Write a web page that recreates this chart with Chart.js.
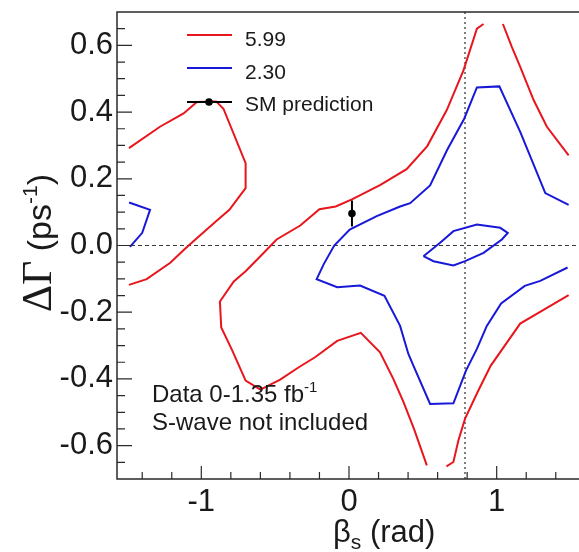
<!DOCTYPE html>
<html>
<head>
<meta charset="utf-8">
<script src="https://cdn.jsdelivr.net/npm/chart.js@4"></script>
<style>
html,body{margin:0;padding:0;background:#fff;overflow:hidden}
canvas{display:block}
</style>
</head>
<body>
<canvas id="c" width="585" height="552"></canvas>
<script>
// ── Axes ─────────────────────────────────────
const X_MIN = -Math.PI / 2, X_MAX = Math.PI / 2;
const Y_MIN = -0.7, Y_MAX = 0.7;
const X_TICKS = [-1, 0, 1];
const X_MINOR = [-1.4, -1.2, -0.8, -0.6, -0.4, -0.2, 0.2, 0.4, 0.6, 0.8, 1.2, 1.4];
const Y_TICKS = [-0.6, -0.4, -0.2, 0, 0.2, 0.4, 0.6];
const Y_MINOR = [-0.65, -0.55, -0.5, -0.45, -0.35, -0.3, -0.25, -0.15, -0.1, -0.05,
                 0.05, 0.1, 0.15, 0.25, 0.3, 0.35, 0.45, 0.5, 0.55, 0.65];

// ── Contours (beta_s, dGamma) ────────────────
// 5.99 level, four open pieces
const red599Left = [
  [-1.49, 0.292], [-1.28, 0.356], [-1.12, 0.396], [-1.03, 0.430], [-0.90, 0.432],
  [-0.85, 0.410], [-0.70, 0.247], [-0.70, 0.172], [-0.81, 0.107], [-0.90, 0.073],
  [-1.04, 0.018], [-1.11, -0.010], [-1.21, -0.052], [-1.37, -0.101], [-1.49, -0.118]
];
const red599Main = [
  [0.527, -0.659], [0.44, -0.550], [0.37, -0.470], [0.30, -0.400], [0.21, -0.320],
  [0.08, -0.262], [-0.08, -0.286], [-0.23, -0.335], [-0.34, -0.365], [-0.466, -0.402],
  [-0.60, -0.432], [-0.70, -0.405], [-0.79, -0.315], [-0.865, -0.246], [-0.874, -0.168],
  [-0.78, -0.108], [-0.70, -0.077], [-0.60, -0.032], [-0.49, 0.018], [-0.33, 0.060],
  [-0.20, 0.109], [-0.09, 0.117], [0.02, 0.138], [0.21, 0.181], [0.39, 0.229],
  [0.53, 0.298], [0.662, 0.406], [0.775, 0.525], [0.866, 0.650], [0.911, 0.664]
];
const red599LowRight = [
  [0.660, -0.662], [0.707, -0.649], [0.741, -0.584], [0.786, -0.519], [0.870, -0.440],
  [0.960, -0.360], [1.159, -0.234], [1.320, -0.192], [1.487, -0.149]
];
const red599UpRight = [
  [1.042, 0.664], [1.103, 0.595], [1.16, 0.535], [1.25, 0.436], [1.34, 0.356], [1.487, 0.270]
];

// 2.30 level, three pieces
const blue230Left = [
  [-1.489, 0.129], [-1.347, 0.107], [-1.40, 0.038], [-1.483, -0.004]
];
const blue230Main = [
  [1.480, -0.066], [1.295, -0.106], [1.190, -0.121], [1.030, -0.174], [0.933, -0.241],
  [0.866, -0.310], [0.792, -0.375], [0.707, -0.473], [0.549, -0.475], [0.436, -0.360],
  [0.402, -0.325], [0.346, -0.241], [0.240, -0.151], [0.075, -0.120], [-0.080, -0.125],
  [-0.219, -0.101], [-0.170, -0.055], [-0.100, 0.000], [0.005, 0.048], [0.188, 0.088],
  [0.346, 0.117], [0.414, 0.127], [0.549, 0.180], [0.665, 0.287], [0.780, 0.380],
  [0.866, 0.474], [1.018, 0.477], [1.160, 0.340], [1.329, 0.157], [1.487, 0.122]
];
const blue230Island = [
  [0.504, -0.032], [0.572, -0.047], [0.707, -0.060], [0.786, -0.047], [0.911, -0.022],
  [1.035, 0.018], [1.075, 0.038], [1.024, 0.053], [0.866, 0.063], [0.707, 0.043],
  [0.617, 0.008], [0.504, -0.032]
];

// Standard Model expectation
const SM_BETA = 0.02, SM_DGAMMA = 0.096, SM_ERR = 0.039;

// Reference lines
const REF_DGAMMA = 0;
const REF_BETA = Math.PI / 4;

// ── Styles ───────────────────────────────────
const RED = '#e8161c', BLUE = '#1818d8', INK = '#1a1a1a';
const sans = "'Liberation Sans', Arial, Helvetica, sans-serif";
const serif = "'Liberation Serif', 'Times New Roman', serif";
const f = (size, fam) => `${size}px ${fam || sans}`;

const pts = arr => arr.map(([x, y]) => ({x, y}));
const line = (arr, color, extra) => Object.assign({
  data: pts(arr), showLine: true, borderColor: color, borderWidth: 2,
  pointRadius: 0, fill: false, tension: 0
}, extra || {});

// ── Helpers ──────────────────────────────────
function richText(ctx, parts, x, y, align) {
  let w = 0;
  parts.forEach(p => { ctx.font = p[1]; w += ctx.measureText(p[0]).width; });
  let cx = align === 'center' ? x - w / 2 : x;
  parts.forEach(p => {
    ctx.font = p[1];
    ctx.fillText(p[0], cx, y + (p[2] || 0));
    cx += ctx.measureText(p[0]).width;
  });
}

// ── Overlay plugin: frame, ticks, legend, labels ──
const overlay = {
  id: 'overlay',
  afterDatasetsDraw(chart) {
    const {ctx, chartArea: a, scales: {x, y}} = chart;
    ctx.save();

    // SM error bar
    const sx = x.getPixelForValue(SM_BETA);
    ctx.strokeStyle = '#000'; ctx.lineWidth = 2;
    ctx.beginPath();
    ctx.moveTo(sx, y.getPixelForValue(SM_DGAMMA + SM_ERR));
    ctx.lineTo(sx, y.getPixelForValue(SM_DGAMMA - SM_ERR));
    ctx.stroke();

    // frame
    ctx.strokeStyle = '#2a2a2a'; ctx.lineWidth = 1.5;
    ctx.beginPath();
    ctx.moveTo(a.right + 2, a.top); ctx.lineTo(a.left, a.top);
    ctx.lineTo(a.left, a.bottom); ctx.lineTo(a.right + 2, a.bottom);
    ctx.stroke();

    ctx.lineWidth = 1.2;
    ctx.beginPath();
    const tick = (px, py, dx, dy) => { ctx.moveTo(px, py); ctx.lineTo(px + dx, py + dy); };
    Y_TICKS.forEach(v => tick(a.left, y.getPixelForValue(v), 15, 0));
    Y_MINOR.forEach(v => tick(a.left, y.getPixelForValue(v), 8, 0));
    X_TICKS.forEach(v => tick(x.getPixelForValue(v), a.bottom, 0, -13));
    X_MINOR.forEach(v => tick(x.getPixelForValue(v), a.bottom, 0, -7));
    ctx.stroke();

    // legend
    const lx0 = 187, lx1 = 232, tx = 245;
    const rows = [[RED, '5.99', 35, 46], [BLUE, '2.30', 68, 78.5], ['#000', 'SM prediction', 102, 110.5]];
    ctx.fillStyle = INK; ctx.textBaseline = 'alphabetic'; ctx.textAlign = 'left';
    rows.forEach(([c, t, ly, by]) => {
      ctx.strokeStyle = c; ctx.lineWidth = 2;
      ctx.beginPath(); ctx.moveTo(lx0, ly); ctx.lineTo(lx1, ly); ctx.stroke();
      ctx.font = f(21); ctx.fillText(t, tx, by);
    });
    ctx.fillStyle = '#000';
    ctx.beginPath(); ctx.arc(209, 102, 3.8, 0, Math.PI * 2); ctx.fill();

    // dataset note
    ctx.fillStyle = INK;
    richText(ctx, [['Data 0-1.35 fb', f(24)], ['-1', f(15), -10]], 152, 402, 'left');
    ctx.font = f(24); ctx.fillText('S-wave not included', 152, 430);

    // axis titles
    richText(ctx, [['\u03b2', f(31)], ['s', f(21), 7], [' (rad)', f(31)]], 333, 542, 'left');
    ctx.translate(51, 243);
    ctx.rotate(-Math.PI / 2);
    richText(ctx, [['\u0394\u0393', f(42, serif)], [' (ps', f(34)], ['-1', f(21), -14], [')', f(34)]], 0, 0, 'center');

    ctx.restore();
  }
};

const noPad = s => { s.paddingTop = 0; s.paddingBottom = 0; s.paddingLeft = 0; s.paddingRight = 0; };

// ── Chart ────────────────────────────────────
new Chart(document.getElementById('c'), {
  type: 'scatter',
  data: {
    datasets: [
      {data: [{x: SM_BETA, y: SM_DGAMMA}], pointRadius: 3.8, pointBackgroundColor: '#000',
       pointBorderWidth: 0, showLine: false},
      line(red599Left, RED), line(red599Main, RED), line(red599LowRight, RED), line(red599UpRight, RED),
      line(blue230Left, BLUE), line(blue230Main, BLUE), line(blue230Island, BLUE),
      line([[X_MIN, REF_DGAMMA], [X_MAX, REF_DGAMMA]], '#3a3a3a', {borderWidth: 1, borderDash: [4, 3]}),
      line([[REF_BETA, Y_MIN], [REF_BETA, Y_MAX]], '#555', {borderWidth: 1.5, borderDash: [2, 3]})
    ]
  },
  plugins: [overlay],
  options: {
    responsive: false,
    animation: false,
    layout: {padding: {top: 12, right: 0, left: 0, bottom: 0}},
    plugins: {legend: {display: false}, tooltip: {enabled: false}},
    scales: {
      x: {
        type: 'linear', min: X_MIN, max: X_MAX,
        grid: {display: false, drawTicks: false}, border: {display: false},
        afterBuildTicks: s => { s.ticks = X_TICKS.map(v => ({value: v})); },
        afterFit: s => { s.height = 73; noPad(s); },
        ticks: {font: {family: sans, size: 31}, color: INK, padding: 5, maxRotation: 0,
                autoSkip: false, callback: v => String(v)}
      },
      y: {
        type: 'linear', min: Y_MIN, max: Y_MAX,
        grid: {display: false, drawTicks: false}, border: {display: false},
        afterBuildTicks: s => { s.ticks = Y_TICKS.map(v => ({value: v})); },
        afterFit: s => { s.width = 117; noPad(s); },
        ticks: {font: {family: sans, size: 31}, color: INK, padding: 4,
                autoSkip: false, callback: v => v.toFixed(1)}
      }
    }
  }
});
</script>
</body>
</html>
